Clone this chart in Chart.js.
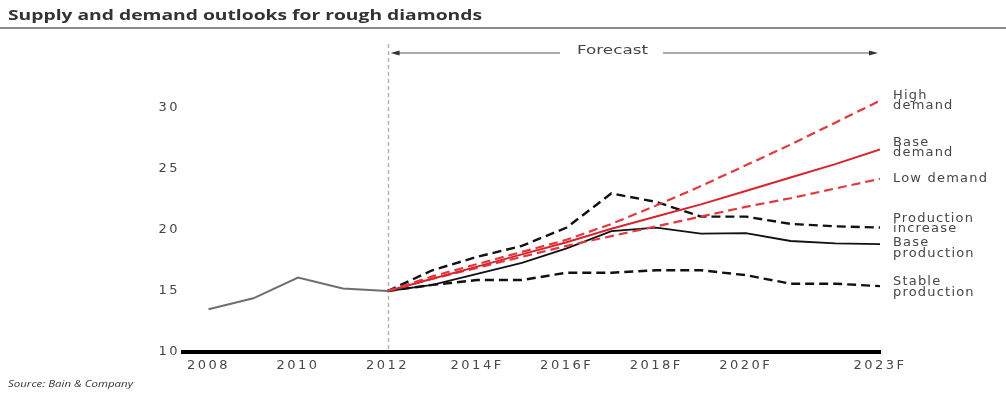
<!DOCTYPE html>
<html>
<head>
<meta charset="utf-8">
<script src="https://cdn.jsdelivr.net/npm/chart.js@4/dist/chart.umd.min.js"></script>
<style>
  html, body { margin: 0; padding: 0; background: #fff; }
  #wrap { width: 1006px; height: 394px; position: relative; }
</style>
</head>
<body>
<div id="wrap"><canvas id="chart"></canvas></div>
<script>
// history + forecast values
const histYears = [2008, 2009, 2010, 2011, 2012];
const histValues = [13.5, 14.4, 16.1, 15.2, 15.0];

const fcYears = [2012, 2013, 2014, 2015, 2016, 2017, 2018, 2019, 2020, 2021, 2022, 2023];
const highDemand = [15.0, 16.2, 17.2, 18.2, 19.2, 20.5, 22.0, 23.6, 25.3, 27.0, 28.8, 30.6];
const baseDemand = [15.0, 16.0, 17.0, 18.0, 19.0, 20.1, 21.1, 22.1, 23.2, 24.3, 25.4, 26.6];
const lowDemand = [15.0, 16.0, 16.9, 17.8, 18.7, 19.5, 20.3, 21.1, 21.9, 22.6, 23.4, 24.2];
const prodIncrease = [15.0, 16.7, 17.8, 18.7, 20.2, 23.0, 22.3, 21.1, 21.1, 20.5, 20.3, 20.2];
const baseProduction = [15.0, 15.5, 16.4, 17.3, 18.5, 19.9, 20.2, 19.7, 19.75, 19.1, 18.9, 18.85];
const stableProduction = [15.0, 15.5, 15.9, 15.9, 16.5, 16.5, 16.7, 16.7, 16.3, 15.6, 15.6, 15.4];

const xTicks = [2008, 2010, 2012, 2014, 2016, 2018, 2020, 2023];
const yTicks = [10, 15, 20, 25, 30];
const forecastStart = 2012;

const labelFont = '"DejaVu Sans", sans-serif';
const textGray = '#474747';

function pts(xs, ys) {
  return xs.map((x, i) => ({ x: x, y: ys[i] }));
}

function series(label, values, color, dashed, width) {
  return {
    label: label,
    data: pts(fcYears, values),
    borderColor: color,
    borderWidth: width || 2,
    borderDash: dashed ? [9, 5] : [],
    pointRadius: 0,
    tension: 0,
    fill: false
  };
}

// text blocks on the right, nudged a little off the line ends
const sideLabels = [
  { lines: ['High', 'demand'], ds: 1, dy: 0 },
  { lines: ['Base', 'demand'], ds: 2, dy: -2 },
  { lines: ['Low demand'], ds: 3, dy: 0 },
  { lines: ['Production', 'increase'], ds: 4, dy: -4 },
  { lines: ['Base', 'production'], ds: 5, dy: 4 },
  { lines: ['Stable', 'production'], ds: 6, dy: 1 }
];

function fitText(ctx, txt, x, y, w) {
  const m = ctx.measureText(txt).width;
  ctx.save();
  ctx.translate(x, y);
  ctx.scale(w / m, 1);
  ctx.fillText(txt, 0, 0);
  ctx.restore();
}

const extras = {
  id: 'extras',
  beforeDraw(chart) {
    chart.ctx.letterSpacing = '2.5px';
  },
  beforeDatasetsDraw(chart) {
    // dashed divider where the forecast starts
    const ctx = chart.ctx;
    const x = Math.round(chart.scales.x.getPixelForValue(forecastStart)) + 0.5;
    ctx.save();
    ctx.strokeStyle = '#b5b5b5';
    ctx.lineWidth = 1.5;
    ctx.setLineDash([4, 3]);
    ctx.beginPath();
    ctx.moveTo(x, 44);
    ctx.lineTo(x, chart.chartArea.bottom);
    ctx.stroke();
    ctx.restore();
  },
  afterDraw(chart) {
    const ctx = chart.ctx;
    const xs = chart.scales.x, ys = chart.scales.y;
    ctx.save();
    ctx.letterSpacing = '0px';

    // title + rule
    ctx.fillStyle = '#333';
    ctx.font = 'bold 14px "Open Sans", sans-serif';
    ctx.textBaseline = 'alphabetic';
    ctx.textAlign = 'left';
    fitText(ctx, 'Supply and demand outlooks for rough diamonds', 8, 20, 474);
    ctx.fillStyle = '#8c8c8c';
    ctx.fillRect(0, 27, 1006, 2);

    // forecast arrow
    const x0 = xs.getPixelForValue(forecastStart) + 3;
    const x1 = xs.getPixelForValue(fcYears[fcYears.length - 1]) - 2;
    const ay = 53;
    ctx.strokeStyle = '#555';
    ctx.fillStyle = '#333';
    ctx.lineWidth = 1.2;
    ctx.beginPath();
    ctx.moveTo(x0 + 6, ay); ctx.lineTo(560, ay);
    ctx.moveTo(663, ay); ctx.lineTo(x1 - 6, ay);
    ctx.stroke();
    ctx.beginPath();
    ctx.moveTo(x0, ay); ctx.lineTo(x0 + 9, ay - 2.5); ctx.lineTo(x0 + 9, ay + 2.5); ctx.closePath();
    ctx.moveTo(x1, ay); ctx.lineTo(x1 - 9, ay - 2.5); ctx.lineTo(x1 - 9, ay + 2.5); ctx.closePath();
    ctx.fill();
    ctx.fillStyle = textGray;
    ctx.font = '12px ' + labelFont;
    ctx.textBaseline = 'middle';
    fitText(ctx, 'Forecast', 577, 51, 71);

    // series names at the right edge
    ctx.font = '13px ' + labelFont;
    ctx.textBaseline = 'middle';
    ctx.letterSpacing = '1.2px';
    const lx = chart.chartArea.right + 13;
    sideLabels.forEach(s => {
      const d = chart.data.datasets[s.ds].data;
      const yEnd = ys.getPixelForValue(d[d.length - 1].y) + s.dy;
      const lh = 10.5;
      const top = yEnd - (s.lines.length - 1) * lh / 2;
      s.lines.forEach((t, i) => ctx.fillText(t, lx, top + i * lh));
    });

    // source note
    ctx.letterSpacing = '0px';
    ctx.fillStyle = '#333';
    ctx.font = 'italic 9px "Open Sans", sans-serif';
    ctx.textBaseline = 'alphabetic';
    fitText(ctx, 'Source: Bain & Company', 8, 387, 125);
    ctx.restore();
  }
};

new Chart(document.getElementById('chart'), {
  type: 'line',
  data: {
    datasets: [
      {
        label: 'Historical',
        data: pts(histYears, histValues),
        borderColor: '#6e6e6e',
        borderWidth: 2,
        pointRadius: 0,
        tension: 0,
        fill: false
      },
      series('High demand', highDemand, '#e0393e', true, 2.2),
      series('Base demand', baseDemand, '#d9232d', false, 2),
      series('Low demand', lowDemand, '#e0393e', true, 2.2),
      series('Production increase', prodIncrease, '#111', true, 2.4),
      series('Base production', baseProduction, '#111', false, 1.8),
      series('Stable production', stableProduction, '#111', true, 2.4)
    ]
  },
  options: {
    responsive: true,
    maintainAspectRatio: false,
    animation: false,
    layout: { padding: { top: 47, right: 126, bottom: 0, left: 0 } },
    plugins: {
      legend: { display: false },
      tooltip: { enabled: false }
    },
    scales: {
      x: {
        type: 'linear',
        min: 2007.43,
        max: 2023,
        afterBuildTicks: axis => { axis.ticks = xTicks.map(v => ({ value: v })); },
        afterFit: s => { s.height = 42; },
        grid: { display: false, drawTicks: false },
        border: { display: true, color: '#000', width: 4 },
        ticks: {
          padding: 6,
          color: textGray,
          font: { family: labelFont, size: 13 },
          maxRotation: 0,
          autoSkip: false,
          callback: v => (v > forecastStart ? v + 'F' : String(v))
        }
      },
      y: {
        min: 10,
        max: 35,
        afterBuildTicks: axis => { axis.ticks = yTicks.map(v => ({ value: v })); },
        afterFit: s => { s.width = 183; },
        grid: { display: false, drawTicks: false },
        border: { display: false },
        ticks: {
          padding: 3,
          color: textGray,
          font: { family: labelFont, size: 13 }
        }
      }
    }
  },
  plugins: [extras]
});
</script>
</body>
</html>
